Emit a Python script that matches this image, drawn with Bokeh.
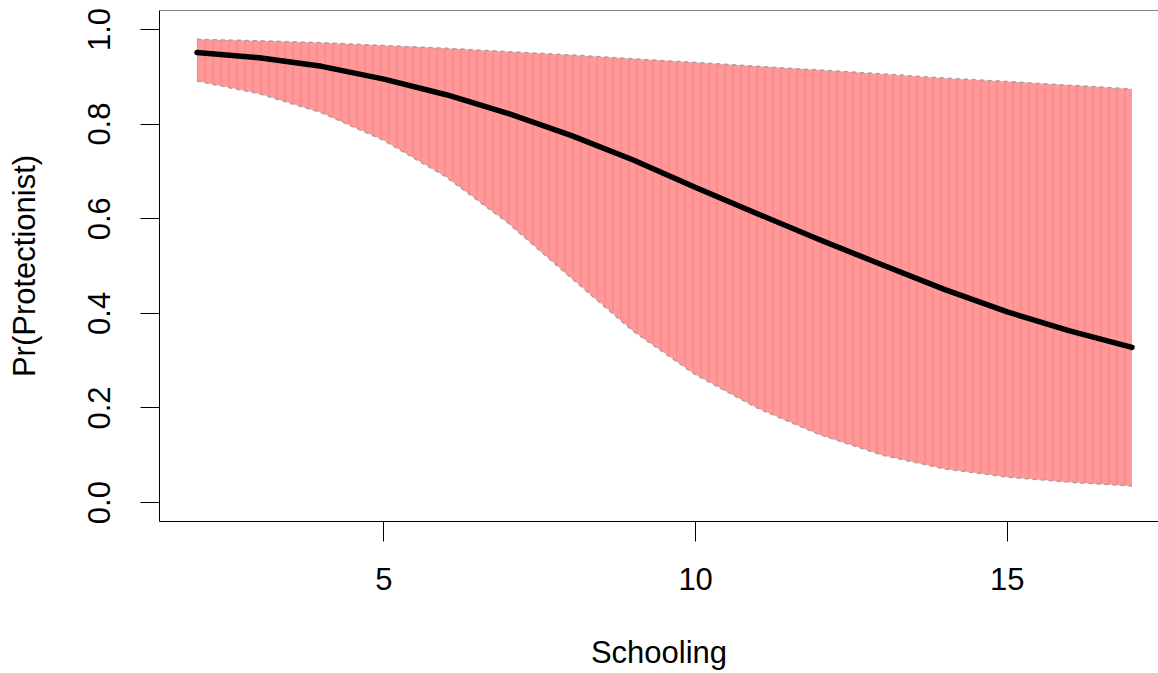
from bokeh.plotting import figure
from bokeh.models import Range1d, FixedTicker, PrintfTickFormatter, Span
from bokeh.embed import file_html
from bokeh.resources import INLINE

# Data
schooling = [2, 3, 4, 5, 6, 7, 8, 9, 10, 11, 12, 13, 14, 15, 16, 17]
pr_mean = [0.951, 0.940, 0.922, 0.895, 0.862, 0.822, 0.776, 0.724, 0.666,
           0.610, 0.555, 0.502, 0.450, 0.403, 0.363, 0.328]
pr_lower = [0.891, 0.864, 0.824, 0.765, 0.688, 0.590, 0.475, 0.362, 0.270,
            0.199, 0.143, 0.100, 0.071, 0.054, 0.043, 0.035]
pr_upper = [0.979, 0.976, 0.972, 0.966, 0.960, 0.953, 0.946, 0.938, 0.930,
            0.922, 0.914, 0.906, 0.897, 0.890, 0.882, 0.874]

x_ticks = [5, 10, 15]
y_ticks = [0.0, 0.2, 0.4, 0.6, 0.8, 1.0]

FONT = "Liberation Sans"
FS = "31px"

p = figure(width=1158, height=673, output_backend="svg", toolbar_location=None,
           x_range=Range1d(1.4, 17.425), y_range=Range1d(-0.04, 1.04),
           min_border_left=159, min_border_right=0, min_border_top=10,
           min_border_bottom=152)
p.outline_line_color = None
p.grid.visible = False
p.background_fill_color = "white"
p.border_fill_color = "white"

# confidence band
p.varea(x=schooling, y1=pr_lower, y2=pr_upper, fill_color="#ff9999",
        hatch_pattern="|", hatch_color="#ff7d7d", hatch_weight=1.2,
        hatch_scale=8, hatch_alpha=0.8)
p.line(schooling, pr_upper, line_color="#a8a0a0", line_width=1.5, line_dash="4 4")
p.line(schooling, pr_lower, line_color="#a8a0a0", line_width=1.5, line_dash="4 4")
p.line(schooling, pr_mean, line_color="black", line_width=5.5, line_cap="round",
       line_join="round")

p.add_layout(Span(location=1.04, dimension="width", line_color="black", line_width=1))

for ax in (p.xaxis[0], p.yaxis[0]):
    ax.axis_line_color = "black"
    ax.axis_line_width = 1
    ax.major_tick_line_color = "black"
    ax.major_tick_line_width = 1
    ax.major_tick_in = 0
    ax.minor_tick_line_color = None
    ax.major_label_text_font = FONT
    ax.major_label_text_font_size = FS
    ax.major_label_text_color = "black"
    ax.axis_label_text_font = FONT
    ax.axis_label_text_font_size = FS
    ax.axis_label_text_font_style = "normal"
    ax.axis_label_text_color = "black"

p.xaxis.ticker = FixedTicker(ticks=x_ticks)
p.xaxis.major_tick_out = 20
p.xaxis.major_label_standoff = 26
p.xaxis.axis_label = "Schooling"
p.xaxis.axis_label_standoff = 42

p.yaxis.ticker = FixedTicker(ticks=y_ticks)
p.yaxis.formatter = PrintfTickFormatter(format="%.1f")
p.yaxis.major_tick_out = 19
p.yaxis.major_label_orientation = "vertical"
p.yaxis.major_label_standoff = 30
p.yaxis.axis_label = "Pr(Protectionist)"
p.yaxis.axis_label_standoff = 44

open("out.html", "w").write(file_html(p, INLINE))
